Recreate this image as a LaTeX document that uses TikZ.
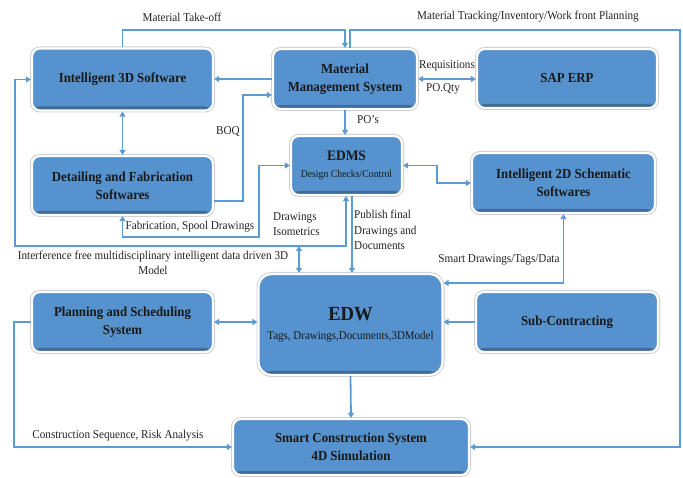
\documentclass[tikz,border=0pt]{standalone}
\usepackage{fontspec}
\setmainfont{Liberation Serif}[FakeStretch=0.93]
\usetikzlibrary{arrows.meta,shadows,calc}
\definecolor{boxblue}{RGB}{86,146,205}
\definecolor{lineblue}{RGB}{91,155,213}
\definecolor{labelgray}{RGB}{35,35,35}
\tikzset{
  box/.style={rectangle, rounded corners=8pt, fill=boxblue, draw=white, line width=2.2pt,
    drop shadow={shadow xshift=0.5pt, shadow yshift=-1.2pt, opacity=0.35, fill=black!60},
    preaction={draw=black!20, line width=4pt},
    path picture={\shade[top color=boxblue, bottom color=boxblue!72!black]
      ([yshift=4pt]path picture bounding box.south west) rectangle (path picture bounding box.south east);},
    font=\bfseries\fontsize{13.8}{18}\selectfont, text=black!90, align=center, inner sep=2pt},
  tip/.tip={Triangle[length=5pt,width=6pt]},
  flow/.style={draw=lineblue, line width=1.8pt, -tip},
  flowb/.style={draw=lineblue, line width=1.8pt, tip-tip},
  lbl/.style={font=\fontsize{12}{15}\selectfont, text=labelgray, inner sep=0pt},
}
\begin{document}
\begin{tikzpicture}[x=1pt,y=-1pt]
\useasboundingbox[fill=white] (0,0) rectangle (683,478);

% system boxes
\node[box, minimum width=181pt, minimum height=62pt] (i3d)  at (122.5,79.5) {Intelligent 3D Software};
\node[box, minimum width=144pt, minimum height=60pt] (mms)  at (345,79) {Material\\Management System};
\node[box, minimum width=180pt, minimum height=59pt] (sap)  at (567,78.5) {SAP ERP};
\node[box, minimum width=181pt, minimum height=59pt] (det)  at (122.5,185.5) {Detailing and Fabrication\\Softwares};
\node[box, minimum width=111pt, minimum height=59pt] (edms) at (346.5,165.5)
  {\fontsize{14.5}{16}\selectfont EDMS\\[-1pt]\mdseries\fontsize{10.5}{13}\selectfont Design Checks/Control};
\node[box, minimum width=183pt, minimum height=60pt] (i2d)  at (563.5,183) {Intelligent 2D Schematic\\Softwares};
\node[box, minimum width=181pt, minimum height=60pt] (plan) at (122.5,322) {Planning and Scheduling\\System};
\node[box, rounded corners=13pt, minimum width=184pt, minimum height=101pt] (edw) at (350.5,324.5)
  {\fontsize{20}{22}\selectfont EDW\\[1pt]\mdseries\fontsize{11.8}{14}\selectfont Tags, Drawings,Documents,3DModel};
\node[box, minimum width=182pt, minimum height=60pt] (sub)  at (567,322) {Sub-Contracting};
\node[box, minimum width=236pt, minimum height=56pt] (scs)  at (351,447) {Smart Construction System\\4D Simulation};

% junction on the model feed line above EDW
\coordinate (jn) at (299,246);

% connectors
\draw[flow] (i3d.north) -- (i3d.north |- 0,30) -| (mms.north);
\draw[flow] ([xshift=5pt]mms.north) |- (680,30) |- (scs.east);
\draw[flow] (mms.west) -- (mms.west -| i3d.east);
\draw[flow] (det.east |- 0,201) -- (243,201) |- (mms.west |- 0,95);
\draw[flowb] (i3d.south) -- (det.north);
\draw[flowb] (mms.east) -- (mms.east -| sap.west);
\draw[flow] (mms.south) -- (mms.south |- edms.north);
\draw[flowb] (edms.west) -| (259,237) -| (det.south);
\draw[flowb] (edms.south -| 346,0) |- (15,246) |- (i3d.west);
\draw[flowb] (jn) -- (jn |- edw.north);
\draw[flow] (edms.south -| 352,0) -- (edw.north -| 352,0);
\draw[flowb] (edms.east) -| (437,183) -- (i2d.west);
\draw[flowb] (i2d.south) |- (edw.east |- 0,283);
\draw[flow] (sub.west) -- (sub.west -| edw.east);
\draw[flowb] (plan.east) -- (plan.east -| edw.west);
\draw[flow] (edw.south) -- (scs.north);
\draw[flow] (plan.west) -- (14,322) |- (scs.west);

% connector labels
\node[lbl] (lmto) at (182,17) {Material Take-off};
\node[lbl] (lmtr) at (528,17) {Material Tracking/Inventory/Work front Planning};
\node[lbl] (lreq) at (447,66) {Requisitions};
\node[lbl] (lpoq) at (443,89) {PO.Qty};
\node[lbl] (lpos) at (368,120) {PO’s};
\node[lbl] (lboq) at (228,132) {BOQ};
\node[lbl] (lfab) at (190,227) {Fabrication, Spool Drawings};
\node[lbl, anchor=west, align=left] (ldwg) at (273,224) {Drawings\\Isometrics};
\node[lbl, align=center] (lint) at (153,263) {Interference free multidisciplinary intelligent data driven 3D\\Model};
\node[lbl, anchor=west, align=left, font=\fontsize{12}{15.5}\selectfont] (lpub) at (354,230) {Publish final\\Drawings and\\Documents};
\node[lbl] (lsmt) at (499,260) {Smart Drawings/Tags/Data};
\node[lbl] (lcon) at (118,436) {Construction Sequence, Risk Analysis};
\end{tikzpicture}
\end{document}
